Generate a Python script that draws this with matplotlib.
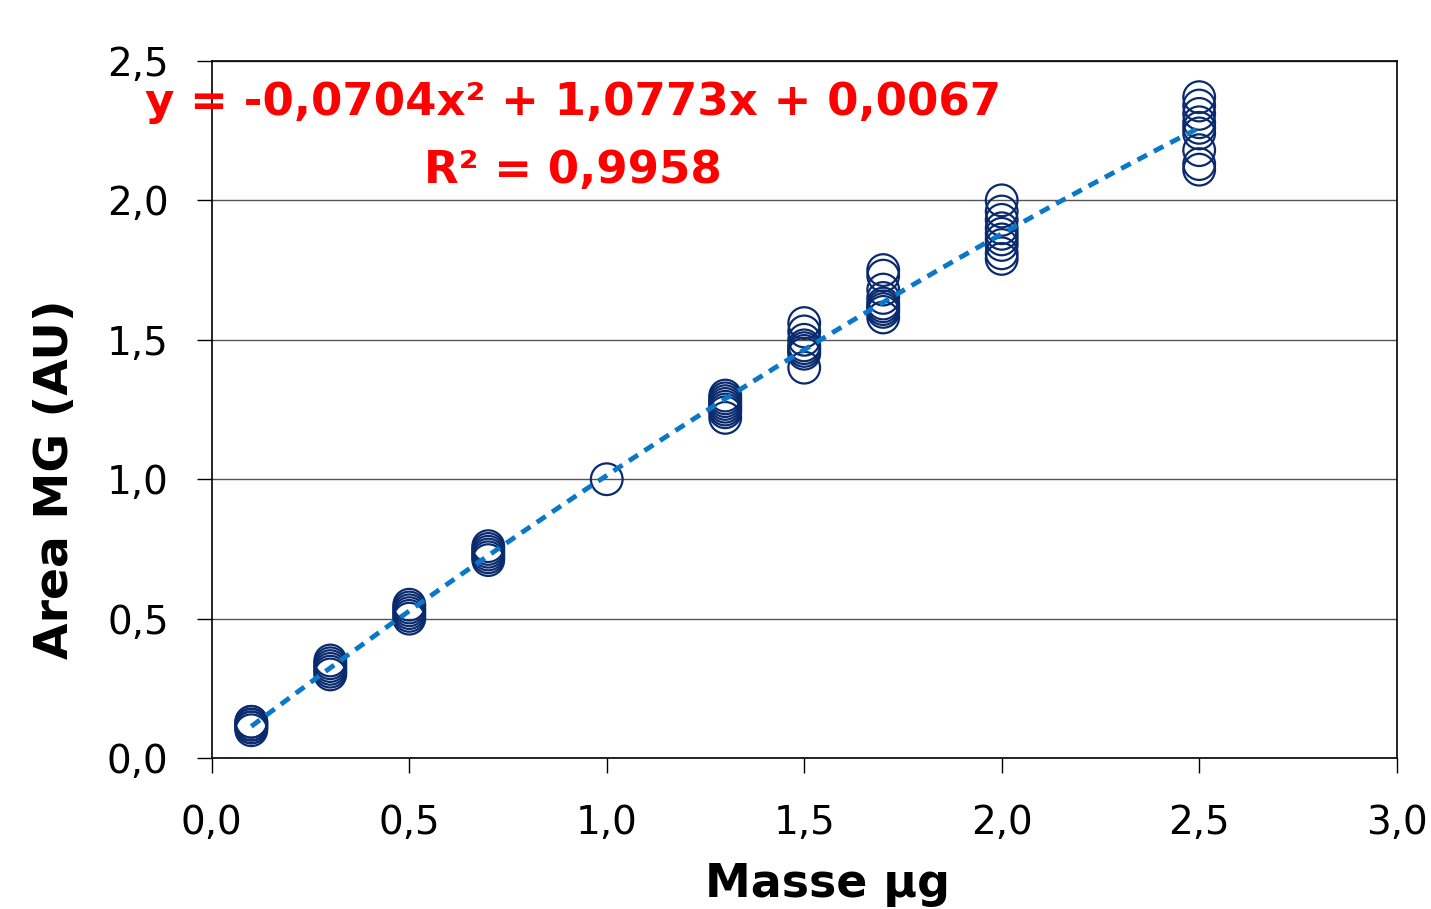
import numpy as np
import matplotlib
matplotlib.use('Agg')
import matplotlib.pyplot as plt

mass_01 = [0.10, 0.11, 0.11, 0.12, 0.12, 0.13, 0.13]
mass_03 = [0.30, 0.31, 0.32, 0.33, 0.34, 0.35]
mass_05 = [0.50, 0.51, 0.52, 0.53, 0.54, 0.55]
mass_07 = [0.71, 0.72, 0.73, 0.74, 0.75, 0.76]
mass_10 = [1.00]
mass_13 = [1.22, 1.24, 1.25, 1.26, 1.27, 1.28, 1.29, 1.30]
mass_15 = [1.40, 1.45, 1.46, 1.47, 1.48, 1.50, 1.53, 1.56]
mass_17 = [1.58, 1.60, 1.61, 1.62, 1.63, 1.65, 1.68, 1.73, 1.75]
mass_20 = [1.79, 1.81, 1.84, 1.86, 1.88, 1.90, 1.93, 1.96, 2.00]
mass_25 = [2.11, 2.13, 2.18, 2.24, 2.26, 2.28, 2.31, 2.34, 2.37]

masses = [0.1, 0.3, 0.5, 0.7, 1.0, 1.3, 1.5, 1.7, 2.0, 2.5]
areas = [mass_01, mass_03, mass_05, mass_07, mass_10,
         mass_13, mass_15, mass_17, mass_20, mass_25]

# trendline coefficients shown on the chart
coef = [-0.0704, 1.0773, 0.0067]
r2 = 0.9958

xticks = [0.0, 0.5, 1.0, 1.5, 2.0, 2.5, 3.0]
yticks = [0.0, 0.5, 1.0, 1.5, 2.0, 2.5]

fig = plt.figure(figsize=(14.31, 9.09), dpi=100)
ax = fig.add_axes([0.148, 0.166, 0.828, 0.767])

xs = []
ys = []
for m, a in zip(masses, areas):
    xs += [m] * len(a)
    ys += a
ax.scatter(xs, ys, s=520, facecolors='none', edgecolors='#0a2a6e',
           linewidths=1.6, zorder=3)

xf = np.linspace(min(masses), max(masses), 200)
ax.plot(xf, np.polyval(coef, xf), linestyle=(0, (2.2, 1.6)), color='#0a78c8',
        linewidth=3.5, zorder=4)

ax.set_xlim(0, 3.0)
ax.set_ylim(0, 2.5)
ax.set_xticks(xticks)
ax.set_yticks(yticks)
fmt = lambda v: f'{v:.1f}'.replace('.', ',')
ax.set_xticklabels([fmt(v) for v in xticks])
ax.set_yticklabels([fmt(v) for v in yticks])
ax.tick_params(direction='out', length=11, width=1, labelsize=28)
ax.tick_params(axis='y', pad=20)
ax.tick_params(axis='x', pad=22)
ax.grid(axis='y', color='#555555', linewidth=1)
ax.set_axisbelow(True)
for sp in ax.spines.values():
    sp.set_linewidth(1.2)

ax.set_xlabel('Masse µg', fontsize=33, fontweight='bold', va='center')
ax.xaxis.set_label_coords(0.52, -0.182)
ax.set_ylabel('Area MG (AU)', fontsize=34, fontweight='bold', va='center')
ax.yaxis.set_label_coords(-0.132, 0.40)

eq = f'y = {coef[0]:.4f}x² + {coef[1]:.4f}x + {coef[2]:.4f}'.replace('.', ',')
ax.text(0.305, 0.94, eq, transform=ax.transAxes, ha='center', va='center',
        color='#ff0000', fontsize=32.5, fontweight='bold')
ax.text(0.305, 0.843, f'R² = {r2:.4f}'.replace('.', ','), transform=ax.transAxes,
        ha='center', va='center', color='#ff0000', fontsize=32.5, fontweight='bold')

fig.savefig('out.png', dpi=100)
